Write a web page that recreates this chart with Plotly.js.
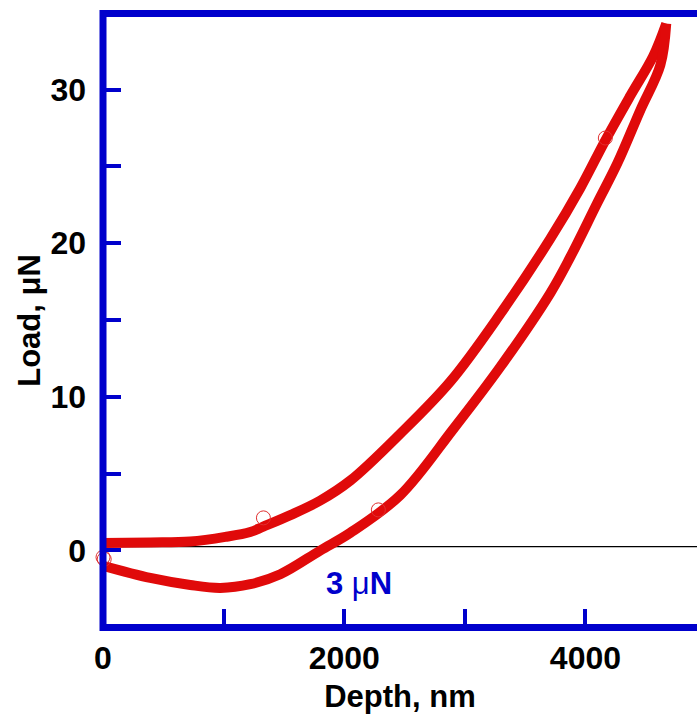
<!DOCTYPE html>
<html>
<head>
<meta charset="utf-8">
<script src="https://cdn.plot.ly/plotly-3.0.1.min.js"></script>
<style>html,body{margin:0;padding:0;background:#fff;}#chart{width:697px;height:716px;}</style>
</head>
<body>
<div id="chart"></div>
<script>
// Loading branch (depth in nm, load in µN)
const loadDepth = [0, 392, 724, 1014, 1221, 1329, 1553, 1802, 2051, 2465, 2880, 3294, 3709, 3958, 4165, 4372, 4563, 4670];
const loadForce = [0.49, 0.52, 0.58, 0.88, 1.20, 1.55, 2.30, 3.25, 4.55, 7.60, 11.00, 15.40, 20.30, 23.60, 26.70, 29.60, 32.20, 34.30];
// Unloading branch
const unloadDepth = [4670, 4621, 4456, 4266, 4098, 3875, 3709, 3294, 2904, 2465, 2051, 1802, 1470, 1221, 973, 724, 392, 0];
const unloadForce = [34.30, 31.60, 28.68, 25.23, 22.62, 19.11, 16.76, 11.95, 7.90, 3.60, 1.15, 0.00, -1.55, -2.20, -2.44, -2.25, -1.79, -1.00];
// Marked points (open circles)
const markDepth = [0, 10, 1330, 2283, 4165];
const markForce = [-0.44, -0.57, 2.12, 2.64, 26.85];
// Axis tick labels
const xTickVals = [0, 2000, 4000];
const xTickText = ['0', '2000', '4000'];
const yTickVals = [0, 10, 20, 30];
const yTickText = ['0', '10', '20', '30'];

const RED = '#e00a0a';
const BLUE = '#0000cc';
const FONT = 'Arial, "Liberation Sans", sans-serif';

const traces = [
  {x: loadDepth, y: loadForce, type: 'scatter', mode: 'lines',
   line: {color: RED, width: 10, shape: 'spline', smoothing: 1}, hoverinfo: 'skip'},
  {x: unloadDepth, y: unloadForce, type: 'scatter', mode: 'lines',
   line: {color: RED, width: 10, shape: 'spline', smoothing: 1}, hoverinfo: 'skip'},
  {x: markDepth, y: markForce, type: 'scatter', mode: 'markers', cliponaxis: false,
   marker: {symbol: 'circle-open', size: 14, color: '#e03030', line: {width: 1}}, hoverinfo: 'skip'}
];

const layout = {
  width: 697, height: 716,
  margin: {l: 103, r: 0, t: 17, b: 92},
  paper_bgcolor: '#fff', plot_bgcolor: '#fff',
  showlegend: false,
  xaxis: {
    range: [0, 4925],
    showgrid: false, zeroline: false,
    showline: true, linecolor: BLUE, linewidth: 7, mirror: true,
    ticks: 'inside', ticklen: 15, tickwidth: 4, tickcolor: BLUE,
    tickmode: 'array', tickvals: xTickVals, ticktext: xTickText,
    minor: {dtick: 1000, tick0: 0, ticks: 'inside', ticklen: 15, tickwidth: 4, tickcolor: BLUE, showgrid: false},
    tickfont: {family: FONT, size: 32, color: '#000', weight: 'bold'},
    title: {text: 'Depth, nm', font: {family: FONT, size: 31, color: '#000', weight: 'bold'}, standoff: 12}
  },
  yaxis: {
    range: [-4.79, 34.73],
    showgrid: false, zeroline: false,
    showline: false,
    ticks: 'inside', ticklen: 18, tickwidth: 4, tickcolor: BLUE,
    tickmode: 'array', tickvals: yTickVals, ticktext: yTickText,
    ticklabelstandoff: 16,
    minor: {dtick: 5, tick0: 0, ticks: 'inside', ticklen: 18, tickwidth: 4, tickcolor: BLUE, showgrid: false},
    tickfont: {family: FONT, size: 32, color: '#000', weight: 'bold'},
    title: {text: 'Load, \u03bcN', font: {family: FONT, size: 31, color: '#000', weight: 'bold'}, standoff: 0}
  },
  shapes: [
    {type: 'line', xref: 'paper', yref: 'y', x0: 0, x1: 1, y0: 0.25, y1: 0.25,
     line: {color: '#000', width: 1.2}, layer: 'below'},
    {type: 'line', xref: 'paper', yref: 'paper', x0: 0, x1: 0, y0: -0.0116, y1: 1.0116,
     line: {color: BLUE, width: 7}, layer: 'above'}
  ],
  annotations: [
    {x: 2125, y: -2.18, xref: 'x', yref: 'y', showarrow: false,
     text: '3 <span style="font-weight:normal">\u03bc</span>N', font: {family: FONT, size: 31, color: BLUE, weight: 'bold'}}
  ]
};

Plotly.newPlot('chart', traces, layout, {staticPlot: true, displayModeBar: false});
</script>
</body>
</html>
